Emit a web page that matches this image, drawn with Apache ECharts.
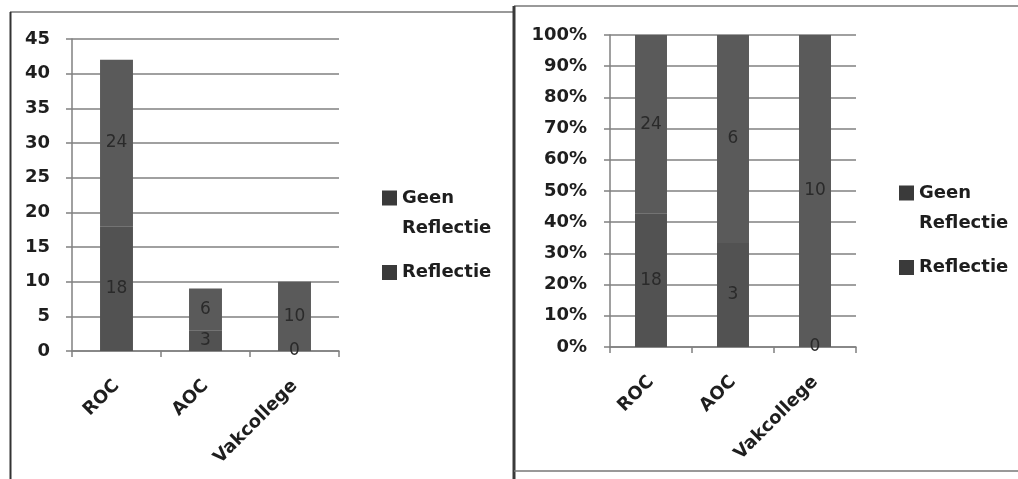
<!DOCTYPE html>
<html><head><meta charset="utf-8">
<script src="https://cdn.jsdelivr.net/npm/echarts@6/dist/echarts.min.js"></script>
<style>html,body{margin:0;padding:0;background:#fff}#c{width:1018px;height:479px}</style>
</head><body><div id="c"></div>
<script>
const categories = ['ROC', 'AOC', 'Vakcollege'];
const seriesNames = ['Geen Reflectie', 'Reflectie'];
const reflectie = [18, 3, 0];
const geenReflectie = [24, 6, 10];
const countAxisMax = 45;
const countAxisStep = 5;
const percentAxisStep = 10;

const totals = categories.map((c, i) => reflectie[i] + geenReflectie[i]);
const reflectiePct = reflectie.map((v, i) => v / totals[i] * 100);
const geenPct = geenReflectie.map((v, i) => v / totals[i] * 100);

const FONT = 'DejaVu Sans';
const barColorTop = '#5a5a5a';
const barColorBottom = '#525252';
const gridColor = '#808080';

const iconFirst = 'path://M0,0L10,0L10,10L0,10Z M0,30L0.05,30';
const iconCentered = 'path://M0,-10L0.05,-10 M0,0L10,0L10,10L0,10Z M0,20L0.05,20';

function legendCfg(left, top) {
  return {
    left: left, top: top, orient: 'vertical', itemWidth: 15, itemHeight: 45, itemGap: 7,
    selectedMode: false,
    data: [{ name: seriesNames[0], icon: iconFirst }, { name: seriesNames[1], icon: iconCentered }],
    formatter: n => n.replace(' ', '\n'),
    itemStyle: { color: '#3a3a3a' },
    textStyle: { fontFamily: FONT, fontWeight: 'bold', fontSize: 18, lineHeight: 30, color: '#1e1e1e' }
  };
}

function xAxisCfg(gridIndex) {
  return {
    type: 'category', gridIndex: gridIndex, data: categories,
    axisLine: { lineStyle: { color: gridColor, width: 1.5 } },
    axisTick: { show: true, length: 6, lineStyle: { color: gridColor, width: 1.5 } },
    axisLabel: { rotate: 45, margin: 32, fontFamily: FONT, fontWeight: 'bold', fontSize: 18, color: '#1e1e1e', interval: 0 }
  };
}

function labelCfg(arr) {
  return {
    show: true, position: 'inside', fontFamily: FONT, fontSize: 17, color: '#2a2a2a',
    formatter: p => String(arr[p.dataIndex])
  };
}

const option = {
  animation: false,
  backgroundColor: '#fff',
  graphic: [
    { type: 'line', shape: { x1: 10, y1: 12, x2: 514, y2: 12 }, style: { stroke: '#777', lineWidth: 1.5 } },
    { type: 'line', shape: { x1: 10.5, y1: 12, x2: 10.5, y2: 479 }, style: { stroke: '#333', lineWidth: 2 } },
    { type: 'line', shape: { x1: 514, y1: 6, x2: 1018, y2: 6 }, style: { stroke: '#777', lineWidth: 1.5 } },
    { type: 'line', shape: { x1: 514, y1: 6, x2: 514, y2: 479 }, style: { stroke: '#3a3a3a', lineWidth: 3 } },
    { type: 'line', shape: { x1: 514, y1: 471, x2: 1018, y2: 471 }, style: { stroke: '#777', lineWidth: 1.5 } }
  ],
  legend: [legendCfg(377, 178), legendCfg(894, 173)],
  grid: [
    { left: 72, top: 39, width: 267, height: 312 },
    { left: 610, top: 35, width: 246, height: 312 }
  ],
  xAxis: [xAxisCfg(0), xAxisCfg(1)],
  yAxis: [
    {
      type: 'value', gridIndex: 0, min: 0, max: countAxisMax, interval: countAxisStep,
      axisLine: { show: true, lineStyle: { color: gridColor, width: 1.5 } },
      axisTick: { show: true, length: 6, lineStyle: { color: gridColor, width: 1.5 } },
      splitLine: { lineStyle: { color: gridColor, width: 1.5 } },
      axisLabel: { margin: 22, fontFamily: FONT, fontWeight: 'bold', fontSize: 18, color: '#1e1e1e' }
    },
    {
      type: 'value', gridIndex: 1, min: 0, max: 100, interval: percentAxisStep,
      axisLine: { show: true, lineStyle: { color: gridColor, width: 1.5 } },
      axisTick: { show: true, length: 6, lineStyle: { color: gridColor, width: 1.5 } },
      splitLine: { lineStyle: { color: gridColor, width: 1.5 } },
      axisLabel: { margin: 23, fontFamily: FONT, fontWeight: 'bold', fontSize: 18, color: '#1e1e1e', formatter: '{value}%' }
    }
  ],
  series: [
    { name: seriesNames[1], type: 'bar', stack: 'a', xAxisIndex: 0, yAxisIndex: 0, barWidth: '37%',
      data: reflectie, itemStyle: { color: barColorBottom }, label: labelCfg(reflectie) },
    { name: seriesNames[0], type: 'bar', stack: 'a', xAxisIndex: 0, yAxisIndex: 0, barWidth: '37%',
      data: geenReflectie, itemStyle: { color: barColorTop }, label: labelCfg(geenReflectie) },
    { name: seriesNames[1], type: 'bar', stack: 'b', xAxisIndex: 1, yAxisIndex: 1, barWidth: '39%',
      data: reflectiePct, itemStyle: { color: barColorBottom }, label: labelCfg(reflectie) },
    { name: seriesNames[0], type: 'bar', stack: 'b', xAxisIndex: 1, yAxisIndex: 1, barWidth: '39%',
      data: geenPct, itemStyle: { color: barColorTop }, label: labelCfg(geenReflectie) }
  ]
};
const chart = echarts.init(document.getElementById('c'), null, { renderer: 'canvas' });
chart.setOption(option);
</script></body></html>
